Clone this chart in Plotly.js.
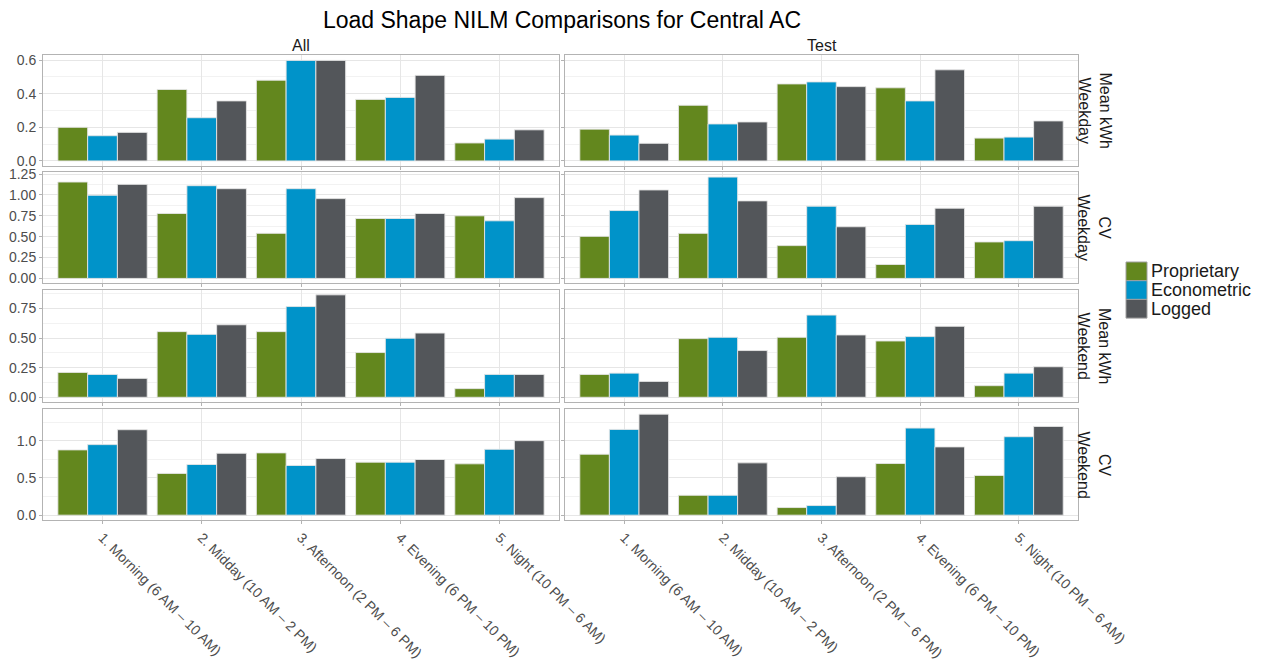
<!DOCTYPE html>
<html>
<head>
<meta charset="utf-8">
<script src="https://cdn.plot.ly/plotly-3.0.1.min.js"></script>
<style>html,body{margin:0;padding:0;background:#fff;}#chart{width:1261px;height:662px;}</style>
</head>
<body>
<div id="chart"></div>
<script>
// ---- data ----
const categories = ["1. Morning (6 AM \u2013 10 AM)", "2. Midday (10 AM \u2013 2 PM)", "3. Afternoon (2 PM \u2013 6 PM)", "4. Evening (6 PM \u2013 10 PM)", "5. Night (10 PM \u2013 6 AM)"];
const seriesNames = ["Proprietary", "Econometric", "Logged"];
const columnLabels = ["All", "Test"];
const rowLabels = ["Mean kWh<br>Weekday", "CV<br>Weekday", "Mean kWh<br>Weekend", "CV<br>Weekend"];

// Mean kWh Weekday
const allMeanWkdayProp = [0.20, 0.425, 0.48, 0.366, 0.107];
const allMeanWkdayEcon = [0.15, 0.257, 0.598, 0.378, 0.13];
const allMeanWkdayLog  = [0.17, 0.357, 0.598, 0.509, 0.185];
const testMeanWkdayProp = [0.189, 0.331, 0.458, 0.435, 0.136];
const testMeanWkdayEcon = [0.154, 0.22, 0.47, 0.357, 0.142];
const testMeanWkdayLog  = [0.105, 0.232, 0.442, 0.542, 0.238];
// CV Weekday
const allCvWkdayProp = [1.155, 0.778, 0.54, 0.718, 0.75];
const allCvWkdayEcon = [0.996, 1.111, 1.075, 0.718, 0.69];
const allCvWkdayLog  = [1.127, 1.075, 0.956, 0.778, 0.968];
const testCvWkdayProp = [0.504, 0.54, 0.393, 0.167, 0.437];
const testCvWkdayEcon = [0.813, 1.214, 0.865, 0.647, 0.452];
const testCvWkdayLog  = [1.06, 0.929, 0.619, 0.841, 0.865];
// Mean kWh Weekend
const allMeanWkendProp = [0.21, 0.555, 0.555, 0.378, 0.073];
const allMeanWkendEcon = [0.193, 0.532, 0.767, 0.499, 0.193];
const allMeanWkendLog  = [0.16, 0.613, 0.866, 0.543, 0.193];
const testMeanWkendProp = [0.193, 0.496, 0.507, 0.476, 0.098];
const testMeanWkendEcon = [0.204, 0.507, 0.695, 0.513, 0.204];
const testMeanWkendLog  = [0.134, 0.395, 0.527, 0.60, 0.258];
// CV Weekend
const allCvWkendProp = [0.876, 0.56, 0.836, 0.711, 0.689];
const allCvWkendEcon = [0.947, 0.68, 0.667, 0.711, 0.884];
const allCvWkendLog  = [1.147, 0.831, 0.76, 0.747, 1.0];
const testCvWkendProp = [0.818, 0.267, 0.102, 0.693, 0.533];
const testCvWkendEcon = [1.151, 0.267, 0.129, 1.169, 1.053];
const testCvWkendLog  = [1.356, 0.702, 0.516, 0.916, 1.191];

const panels = [
  [[allMeanWkdayProp, allMeanWkdayEcon, allMeanWkdayLog], [testMeanWkdayProp, testMeanWkdayEcon, testMeanWkdayLog]],
  [[allCvWkdayProp, allCvWkdayEcon, allCvWkdayLog], [testCvWkdayProp, testCvWkdayEcon, testCvWkdayLog]],
  [[allMeanWkendProp, allMeanWkendEcon, allMeanWkendLog], [testMeanWkendProp, testMeanWkendEcon, testMeanWkendLog]],
  [[allCvWkendProp, allCvWkendEcon, allCvWkendLog], [testCvWkendProp, testCvWkendEcon, testCvWkendLog]]
];

// ---- style ----
const colors = ["#63871E", "#0093C9", "#53565A"];
const W = 1261, H = 662;
const colPx = [[43, 559], [565, 1078]];
const rowPx = [[55, 166], [172, 283], [290, 402], [409, 520]];
const yRanges = [[-0.03, 0.63], [-0.055, 1.275], [-0.04, 0.907], [-0.065, 1.425]];
const yDticks = [0.2, 0.25, 0.25, 0.5];
const yFormats = [".1f", ".2f", ".2f", ".1f"];
const FONT = "Liberation Sans, Arial, sans-serif";

const traces = [];
const layout = {
  width: W, height: H,
  margin: {l: 0, r: 0, t: 0, b: 0},
  paper_bgcolor: "#fff", plot_bgcolor: "#fff",
  barmode: "group", bargap: 0.1, bargroupgap: 0,
  font: {family: FONT, color: "#4d4d4d"},
  showlegend: false,
  title: {text: "Load Shape NILM Comparisons for Central AC", x: 562 / W, xanchor: "center",
          y: 1 - 20 / H, yanchor: "middle", font: {size: 23, color: "#000", family: FONT}},
  annotations: [],
  shapes: []
};

for (let r = 0; r < 4; r++) {
  for (let c = 0; c < 2; c++) {
    const idx = r * 2 + c + 1;
    const xa = "x" + (idx === 1 ? "" : idx);
    const ya = "y" + (idx === 1 ? "" : idx);
    const xk = "xaxis" + (idx === 1 ? "" : idx);
    const yk = "yaxis" + (idx === 1 ? "" : idx);
    for (let s = 0; s < 3; s++) {
      traces.push({
        type: "bar", x: categories, y: panels[r][c][s], name: seriesNames[s],
        xaxis: xa, yaxis: ya, legendgroup: seriesNames[s],
        marker: {color: colors[s], line: {color: "rgba(230,230,230,0.9)", width: 1}},
        hoverinfo: "x+y+name"
      });
    }
    layout[xk] = {
      domain: [colPx[c][0] / W, colPx[c][1] / W],
      anchor: ya, type: "category", range: [-0.6, 4.6],
      showgrid: true, gridcolor: "#e6e6e6", gridwidth: 1,
      showline: true, mirror: true, linecolor: "#b3b3b3", linewidth: 1,
      zeroline: false,
      ticks: "outside", ticklen: 3, tickcolor: "#b3b3b3",
      showticklabels: r === 3, tickangle: 45,
      tickfont: {size: 14, color: "#4d4d4d", family: FONT}
    };
    layout[yk] = {
      domain: [1 - rowPx[r][1] / H, 1 - rowPx[r][0] / H],
      anchor: xa, range: yRanges[r], dtick: yDticks[r], tick0: 0,
      tickformat: yFormats[r],
      showgrid: true, gridcolor: "#e6e6e6", gridwidth: 1,
      minor: {dtick: yDticks[r] / 2, tick0: 0, showgrid: true, gridcolor: "#f2f2f2", gridwidth: 1, ticks: ""},
      showline: true, mirror: true, linecolor: "#b3b3b3", linewidth: 1,
      zeroline: false,
      ticks: "outside", ticklen: 3, tickcolor: "#b3b3b3",
      showticklabels: c === 0,
      tickfont: {size: 14, color: "#4d4d4d", family: FONT}
    };
  }
}

// column strip labels
for (let c = 0; c < 2; c++) {
  layout.annotations.push({
    text: columnLabels[c], xref: "paper", yref: "paper",
    x: (colPx[c][0] + colPx[c][1]) / 2 / W, y: 1 - 46 / H,
    xanchor: "center", yanchor: "middle", showarrow: false,
    font: {size: 16, color: "#1a1a1a", family: FONT}
  });
}
// row strip labels
for (let r = 0; r < 4; r++) {
  layout.annotations.push({
    text: rowLabels[r], xref: "paper", yref: "paper",
    x: 1094 / W, y: 1 - (rowPx[r][0] + rowPx[r][1]) / 2 / H,
    xanchor: "center", yanchor: "middle", showarrow: false, textangle: 90,
    font: {size: 16, color: "#1a1a1a", family: FONT}
  });
}
// legend (keys + labels)
const legTop = 262, legStep = 18.7;
for (let s = 0; s < 3; s++) {
  const y0 = legTop + s * legStep, y1 = y0 + legStep;
  layout.shapes.push({
    type: "rect", xref: "paper", yref: "paper",
    x0: 1126 / W, x1: 1147 / W, y0: 1 - y1 / H, y1: 1 - y0 / H,
    fillcolor: colors[s], line: {color: "#a0a0a0", width: 1}
  });
  layout.annotations.push({
    text: seriesNames[s], xref: "paper", yref: "paper",
    x: 1149 / W, y: 1 - (y0 + y1) / 2 / H, xanchor: "left", yanchor: "middle",
    showarrow: false, font: {size: 18, color: "#1a1a1a", family: FONT}
  });
}

Plotly.newPlot("chart", traces, layout, {displayModeBar: false, staticPlot: true});
</script>
</body>
</html>
